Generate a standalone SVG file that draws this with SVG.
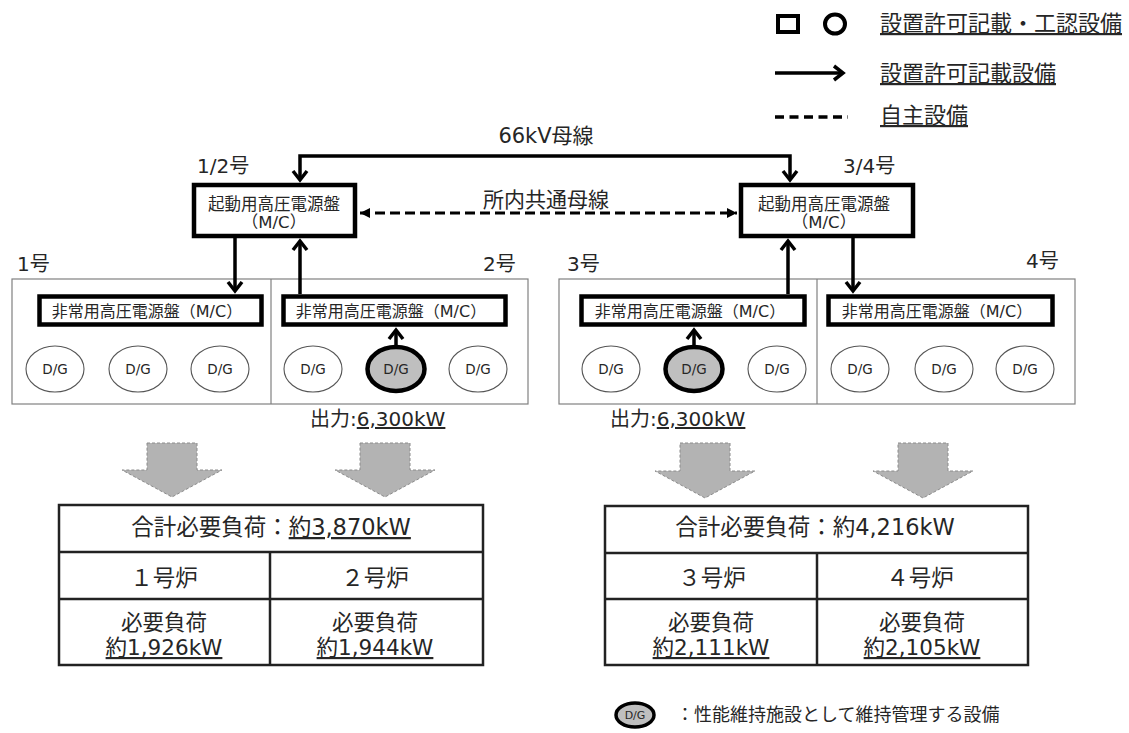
<svg xmlns="http://www.w3.org/2000/svg" width="1129" height="733" viewBox="0 0 1129 733">
<style>
.t{font-family:"DejaVu Sans","Noto Sans CJK JP",sans-serif;fill:#262626}
.u{text-decoration:underline}
.box{fill:#fff;stroke:#000;stroke-width:4.5}
.unit{fill:#fff;stroke:#808080;stroke-width:1.2}
.dg{fill:#fff;stroke:#555;stroke-width:1.1}
.dgs{fill:#bfbfbf;stroke:#000;stroke-width:4.5}
.con{fill:none;stroke:#000;stroke-width:3.5}
.dash{fill:none;stroke:#000;stroke-width:3;stroke-dasharray:10 5}
.garrow{fill:#b3b3b3;stroke:#8c8c8c;stroke-width:1;stroke-dasharray:3 2}
.tbl{fill:#fff;stroke:#222;stroke-width:2.5}
.tl{stroke:#222;stroke-width:2.5}
</style>
<defs>
<marker id="chev" markerUnits="userSpaceOnUse" viewBox="-14 -10 18 20" refX="0" refY="0" markerWidth="18" markerHeight="20" orient="auto-start-reverse">
<path d="M-9,-7 L0,0 L-9,7" fill="none" stroke="#000" stroke-width="3.5"/>
</marker>
<marker id="tri" markerUnits="userSpaceOnUse" viewBox="-11 -6 12 12" refX="0" refY="0" markerWidth="12" markerHeight="12" orient="auto-start-reverse">
<path d="M-10,-5 L0,0 L-10,5 Z" fill="#000"/>
</marker>
</defs>
<rect width="1129" height="733" fill="#fff"/>

<g id="legend">
<rect x="778" y="16" width="20" height="16" fill="none" stroke="#000" stroke-width="4"/>
<ellipse cx="835" cy="24" rx="10" ry="9.5" fill="none" stroke="#000" stroke-width="4"/>
<text class="t u" x="880" y="31" font-size="22">設置許可記載・工認設備</text>
<line x1="775" y1="73" x2="843" y2="73" class="con" marker-end="url(#chev)"/>
<text class="t u" x="880" y="81" font-size="22">設置許可記載設備</text>
<line x1="775" y1="117" x2="848" y2="117" stroke="#000" stroke-width="3.5" stroke-dasharray="9 5.5"/>
<text class="t u" x="880" y="123" font-size="22">自主設備</text>
</g>

<g id="labels">
<text class="t" x="546" y="143" font-size="21" text-anchor="middle">66kV母線</text>
<text class="t" x="546" y="207" font-size="21" text-anchor="middle">所内共通母線</text>
<text class="t" x="197" y="173" font-size="20">1/2号</text>
<text class="t" x="843" y="173" font-size="20">3/4号</text>
<text class="t" x="17" y="271" font-size="20">1号</text>
<text class="t" x="483" y="271" font-size="20">2号</text>
<text class="t" x="567" y="271" font-size="20">3号</text>
<text class="t" x="1026" y="268" font-size="20">4号</text>
</g>

<g id="mc12">
<rect class="box" x="194" y="185" width="161" height="51"/>
<text class="t" x="274" y="210" font-size="16.5" text-anchor="middle">起動用高圧電源盤</text>
<text class="t" x="274" y="228" font-size="16.5" text-anchor="middle">（M/C）</text>
</g>
<g id="mc34">
<rect class="box" x="741" y="185" width="172" height="51"/>
<text class="t" x="824" y="210" font-size="16.5" text-anchor="middle">起動用高圧電源盤</text>
<text class="t" x="824" y="228" font-size="16.5" text-anchor="middle">（M/C）</text>
</g>

<g id="unit12">
<rect class="unit" x="12" y="279" width="516" height="125"/>
<line x1="271" y1="279" x2="271" y2="404" stroke="#808080" stroke-width="1.2"/>
</g>
<g id="unit34">
<rect class="unit" x="559" y="279" width="516" height="125"/>
<line x1="817" y1="279" x2="817" y2="404" stroke="#808080" stroke-width="1.2"/>
</g>

<g id="emc1">
<rect class="box" x="39.5" y="296.5" width="222" height="28"/>
<text class="t" x="147" y="317" font-size="16" text-anchor="middle">非常用高圧電源盤（M/C）</text>
</g>
<g id="emc2">
<rect class="box" x="283.5" y="296.5" width="222" height="28"/>
<text class="t" x="391" y="317" font-size="16" text-anchor="middle">非常用高圧電源盤（M/C）</text>
</g>
<g id="emc3">
<rect class="box" x="581.5" y="296.5" width="223" height="28"/>
<text class="t" x="690" y="317" font-size="16" text-anchor="middle">非常用高圧電源盤（M/C）</text>
</g>
<g id="emc4">
<rect class="box" x="828.5" y="296.5" width="224" height="28"/>
<text class="t" x="937" y="317" font-size="16" text-anchor="middle">非常用高圧電源盤（M/C）</text>
</g>

<g id="dg1"><ellipse class="dg" cx="55" cy="369" rx="29" ry="23"/><text class="t" x="55" y="374" font-size="13.5" text-anchor="middle">D/G</text></g>
<g id="dg2"><ellipse class="dg" cx="138" cy="369" rx="29" ry="23"/><text class="t" x="138" y="374" font-size="13.5" text-anchor="middle">D/G</text></g>
<g id="dg3"><ellipse class="dg" cx="220" cy="369" rx="29" ry="23"/><text class="t" x="220" y="374" font-size="13.5" text-anchor="middle">D/G</text></g>
<g id="dg4"><ellipse class="dg" cx="313" cy="369" rx="29" ry="23"/><text class="t" x="313" y="374" font-size="13.5" text-anchor="middle">D/G</text></g>
<g id="dg5"><ellipse class="dgs" cx="396" cy="369" rx="28.5" ry="22"/><text class="t" x="396" y="374" font-size="13.5" text-anchor="middle">D/G</text></g>
<g id="dg6"><ellipse class="dg" cx="478" cy="369" rx="29" ry="23"/><text class="t" x="478" y="374" font-size="13.5" text-anchor="middle">D/G</text></g>
<g id="dg7"><ellipse class="dg" cx="611" cy="369" rx="29" ry="23"/><text class="t" x="611" y="374" font-size="13.5" text-anchor="middle">D/G</text></g>
<g id="dg8"><ellipse class="dgs" cx="694" cy="369" rx="28.5" ry="22"/><text class="t" x="694" y="374" font-size="13.5" text-anchor="middle">D/G</text></g>
<g id="dg9"><ellipse class="dg" cx="777" cy="369" rx="29" ry="23"/><text class="t" x="777" y="374" font-size="13.5" text-anchor="middle">D/G</text></g>
<g id="dg10"><ellipse class="dg" cx="860" cy="369" rx="29" ry="23"/><text class="t" x="860" y="374" font-size="13.5" text-anchor="middle">D/G</text></g>
<g id="dg11"><ellipse class="dg" cx="944" cy="369" rx="29" ry="23"/><text class="t" x="944" y="374" font-size="13.5" text-anchor="middle">D/G</text></g>
<g id="dg12"><ellipse class="dg" cx="1025" cy="369" rx="29" ry="23"/><text class="t" x="1025" y="374" font-size="13.5" text-anchor="middle">D/G</text></g>

<g id="connectors">
<path class="con" d="M300,180 L300,156 L790,156 L790,180" marker-start="url(#chev)" marker-end="url(#chev)"/>
<line class="dash" x1="360" y1="213" x2="737" y2="213" marker-start="url(#tri)" marker-end="url(#tri)"/>
<line class="con" x1="235" y1="238" x2="235" y2="291" marker-end="url(#chev)"/>
<line class="con" x1="300" y1="294" x2="300" y2="241" marker-end="url(#chev)"/>
<line class="con" x1="788" y1="294" x2="788" y2="241" marker-end="url(#chev)"/>
<line class="con" x1="853" y1="238" x2="853" y2="291" marker-end="url(#chev)"/>
<line class="con" x1="396" y1="346" x2="396" y2="330" marker-end="url(#chev)"/>
<line class="con" x1="694" y1="346" x2="694" y2="330" marker-end="url(#chev)"/>
</g>

<g id="outputs">
<text class="t" x="310" y="426" font-size="20">出力:<tspan class="u">6,300kW</tspan></text>
<text class="t" x="610" y="426" font-size="20">出力:<tspan class="u">6,300kW</tspan></text>
</g>

<g id="flows">
<polygon class="garrow" points="147,443 197,443 197,470 222,470 172,497 122,470 147,470"/>
<polygon class="garrow" points="360,443 410,443 410,470 435,470 385,497 335,470 360,470"/>
<polygon class="garrow" points="680,443 730,443 730,471 755,471 705,498 655,471 680,471"/>
<polygon class="garrow" points="898,443 948,443 948,471 973,471 923,498 873,471 898,471"/>
</g>

<g id="table12">
<rect class="tbl" x="59" y="505" width="424" height="160"/>
<line class="tl" x1="59" y1="552" x2="483" y2="552"/>
<line class="tl" x1="59" y1="599" x2="483" y2="599"/>
<line class="tl" x1="270" y1="552" x2="270" y2="665"/>
<text class="t" x="271" y="535" font-size="22.5" text-anchor="middle">合計必要負荷：<tspan class="u">約3,870kW</tspan></text>
<text class="t" x="164" y="586" font-size="22.5" text-anchor="middle">１号炉</text>
<text class="t" x="375" y="586" font-size="22.5" text-anchor="middle">２号炉</text>
<text class="t" x="164" y="630" font-size="21.5" text-anchor="middle">必要負荷</text>
<text class="t u" x="164" y="655" font-size="21.5" text-anchor="middle">約1,926kW</text>
<text class="t" x="375" y="630" font-size="21.5" text-anchor="middle">必要負荷</text>
<text class="t u" x="375" y="655" font-size="21.5" text-anchor="middle">約1,944kW</text>
</g>

<g id="table34">
<rect class="tbl" x="605" y="506" width="423" height="159"/>
<line class="tl" x1="605" y1="553" x2="1028" y2="553"/>
<line class="tl" x1="605" y1="599" x2="1028" y2="599"/>
<line class="tl" x1="817" y1="553" x2="817" y2="665"/>
<text class="t" x="815" y="535" font-size="22.5" text-anchor="middle">合計必要負荷：約4,216kW</text>
<text class="t" x="712" y="586" font-size="22.5" text-anchor="middle">３号炉</text>
<text class="t" x="920" y="586" font-size="22.5" text-anchor="middle">４号炉</text>
<text class="t" x="711" y="630" font-size="21.5" text-anchor="middle">必要負荷</text>
<text class="t u" x="711" y="655" font-size="21.5" text-anchor="middle">約2,111kW</text>
<text class="t" x="922" y="630" font-size="21.5" text-anchor="middle">必要負荷</text>
<text class="t u" x="922" y="655" font-size="21.5" text-anchor="middle">約2,105kW</text>
</g>

<g id="legend2">
<ellipse cx="635" cy="715" rx="19" ry="12" fill="#bfbfbf" stroke="#000" stroke-width="3.5"/>
<text class="t" x="635" y="719" font-size="11" text-anchor="middle">D/G</text>
<text class="t" x="676" y="721" font-size="18">：性能維持施設として維持管理する設備</text>
</g>
</svg>
